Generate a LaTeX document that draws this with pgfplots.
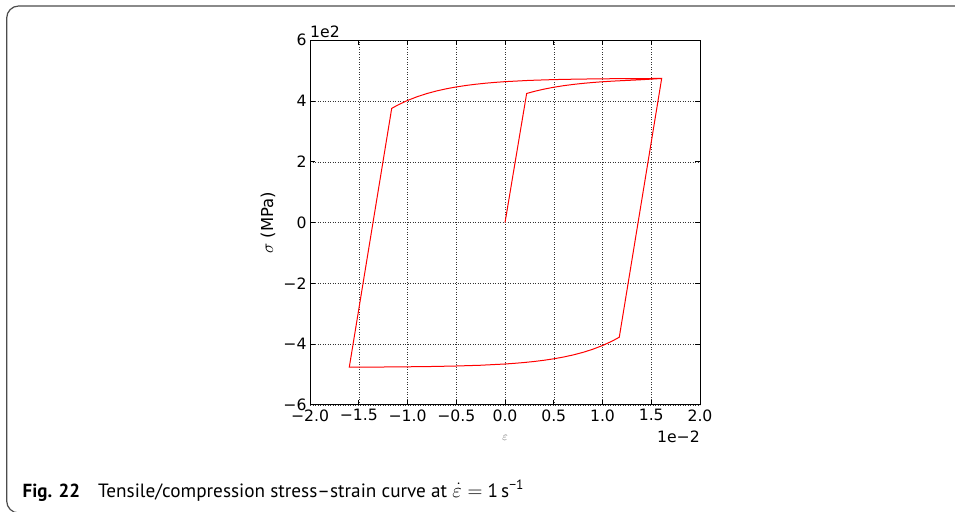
\documentclass[border=0pt]{standalone}
\usepackage{pgfplots}
\pgfplotsset{compat=1.18}
\usepackage{fontspec}
\setmainfont{DejaVu Sans}
\newfontfamily\capfont{PT Sans}
\begin{document}
\begin{tikzpicture}
\useasboundingbox (0,0) rectangle (955bp,512bp);
\clip (0,0) rectangle (955bp,512bp);
\draw[line width=1.2bp, black!70, rounded corners=12bp] (1000bp,506bp) -- (6.7bp,506bp) -- (6.7bp,-1bp) -- (200bp,-1bp);
\begin{axis}[
  at={(310bp,107bp)}, anchor=south west,
  scale only axis, width=390bp, height=364.7bp,
  xmin=-2, xmax=2, ymin=-6, ymax=6,
  xtick={-2,-1.5,-1,-0.5,0,0.5,1,1.5,2},
  xticklabels={−2.0,−1.5,−1.0,−0.5,0.0,0.5,1.0,1.5,2.0},
  ytick={-6,-4,-2,0,2,4,6},
  yticklabels={−6,−4,−2,0,2,4,6},
  tick label style={font=\fontsize{15.7}{18}\selectfont},
  xticklabel style={yshift=-1bp},
  tick align=inside, tick pos=both,
  major tick length=5bp,
  axis line style={line width=1bp},
  every tick/.style={black, line width=1bp},
  grid=major,
  major grid style={black!80, line width=0.5bp, dash pattern=on 0.8bp off 1.7bp},
  xlabel={\fontsize{13}{15}\selectfont$\varepsilon$},
  xlabel style={at={(axis description cs:0.5,-0.09)}, anchor=center, text=black!65},
  ylabel={\fontsize{16.5}{19}\selectfont$\sigma$ (MPa)},
  ylabel style={at={(axis description cs:-0.108,0.5)}, anchor=center},
  clip=false,
]
\addplot[red, line width=1bp] coordinates {
(0,0) (0.222,4.25) (0.3,4.319) (0.4,4.393) (0.5,4.455) (0.6,4.506) (0.7,4.548) (0.8,4.583) (0.9,4.612) (1.0,4.636) (1.1,4.656) (1.2,4.672) (1.3,4.687) (1.4,4.703) (1.5,4.722) (1.607,4.745)
(1.172,-3.77) (1.1,-3.896) (1.0,-4.043) (0.9,-4.166) (0.8,-4.268) (0.7,-4.352) (0.6,-4.422) (0.5,-4.48) (0.4,-4.528) (0.3,-4.568) (0.2,-4.601) (0.1,-4.628) (0.0,-4.651) (-0.25,-4.692) (-0.5,-4.717) (-0.75,-4.733) (-1.0,-4.743) (-1.25,-4.75) (-1.5,-4.753) (-1.597,-4.755)
(-1.162,3.76) (-1.1,3.869) (-1.0,4.02) (-0.9,4.145) (-0.8,4.249) (-0.7,4.335) (-0.6,4.406) (-0.5,4.465) (-0.4,4.514) (-0.3,4.554) (-0.2,4.588) (-0.1,4.616) (0.0,4.639) (0.25,4.681) (0.5,4.707) (0.75,4.723) (1.0,4.733) (1.25,4.739) (1.5,4.743) (1.607,4.745)
};
\node[anchor=base west, font=\fontsize{15.7}{18}\selectfont, inner sep=0pt] at ([yshift=3bp]axis description cs:0,1) {1e2};
\node[anchor=east, font=\fontsize{15.7}{18}\selectfont, inner sep=0pt] at (axis description cs:1,-0.088) {1e−2};
\end{axis}
\node[anchor=base west, inner sep=0pt] at (22.5bp,15bp) {\capfont\fontsize{19}{22}\selectfont\textbf{Fig. 22}};
\node[anchor=base west, inner sep=0pt] at (98bp,15bp) {\capfont\fontsize{19.3}{22}\selectfont Tensile/compression stress–strain curve at $\dot{\varepsilon}=$ 1\,s\textsuperscript{−1}};
\end{tikzpicture}
\end{document}
